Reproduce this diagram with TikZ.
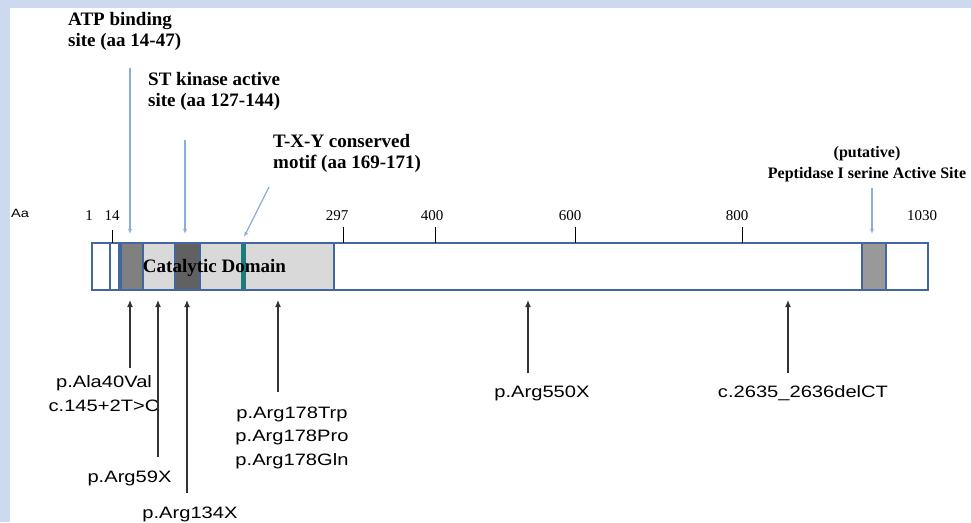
\documentclass[tikz,border=0pt]{standalone}
\usepackage{fontspec}
\setmainfont{Liberation Serif}
\newfontfamily\mutfont[FakeStretch=1.22]{Liberation Sans}
\usetikzlibrary{arrows.meta}
\definecolor{Frame}{HTML}{CCD9EE}
\definecolor{Edge}{HTML}{41679E}
\definecolor{Pointer}{HTML}{8AAEDC}
\definecolor{Domain}{HTML}{D9D9D9}
\definecolor{Motif}{HTML}{1C7C7C}

\begin{document}
\begin{tikzpicture}[x=1pt, y=-1pt,
      site/.style={font=\bfseries\fontsize{19}{21}\selectfont, align=left,
                   inner sep=0pt, anchor=base west},
      mut/.style={font=\mutfont\fontsize{16.5}{23.5}\selectfont, align=center,
                  inner sep=0pt, anchor=base},
      num/.style={font=\fontsize{15}{15}\selectfont, inner sep=0pt, anchor=base},
      seg/.style={draw=Edge, line width=1.6pt},
      siteArrow/.style={-{Latex[length=5pt,width=4pt]}, Pointer, line width=1.2pt},
      mutArrow/.style={-{Latex[length=7pt,width=6pt]}, black!80, line width=1.2pt}
    ]
      \useasboundingbox (0,0) rectangle (971,522);
      \fill[Frame] (0,0) rectangle (971,522);
      \fill[white] (10,8) rectangle (971,522);

      \draw[seg, fill=white] (92,243) rectangle (928,290);
      \draw[seg, fill=Domain] (119,243) rectangle (334,290);
      \draw[seg, fill=black!50] (121,243) rectangle (143,290);
      \draw[seg, fill=black!62] (175,243) rectangle (200,290);
      \draw[seg, fill=black!40] (862,243) rectangle (886,290);
      \draw[seg] (110,243) -- (110,290);
      \fill[Motif] (241,244) rectangle (246,289);

      \draw[line width=0.8pt] (112,230) -- (112,243);
      \foreach \x in {343,435,575,742}
        \draw[line width=0.8pt] (\x,227) -- (\x,243);

      \node[num, font=\mutfont\fontsize{12}{12}\selectfont] (aa) at (20,217) {Aa};
      \foreach \x/\v in {89/1,112/14,337/297,432/400,570/600,737/800,922/1030}
        \node[num] (t\v) at (\x,220) {\v};

      \node[font=\bfseries\fontsize{19}{19}\selectfont, inner sep=0pt, anchor=base]
        (cat) at (214.5,272) {Catalytic Domain};

      % base of a two-line label is its last line
      \node[site] (atp) at (68,46) {ATP binding\\site (aa 14-47)};
      \node[site] (stk) at (148,106) {ST kinase active\\site (aa 127-144)};
      \node[site] (txy) at (273,168) {T-X-Y conserved\\motif (aa 169-171)};
      \node[site, font=\bfseries\fontsize{16}{21}\selectfont, align=center, anchor=base]
        (pep) at (867,178) {(putative)\\Peptidase I serine Active Site};

      \coordinate (atpS) at (130,68);  \coordinate (atpE) at (130,234);
      \coordinate (stkS) at (185,140); \coordinate (stkE) at (185,234);
      \coordinate (txyS) at (269,187); \coordinate (txyE) at (244,237);
      \coordinate (pepS) at (872,188); \coordinate (pepE) at (872,234);
      \draw[siteArrow] (atpS) -- (atpE);
      \draw[siteArrow] (stkS) -- (stkE);
      \draw[siteArrow] (txyS) -- (txyE);
      \draw[siteArrow] (pepS) -- (pepE);

      \node[mut] (a40) at (104,411) {p.Ala40Val\\c.145+2T>C};
      \node[mut] (r59) at (129.5,482) {p.Arg59X};
      \node[mut] (r134) at (190,518) {p.Arg134X};
      \node[mut] (r178) at (292,465) {p.Arg178Trp\\p.Arg178Pro\\p.Arg178Gln};
      \node[mut] (r550) at (542,397) {p.Arg550X};
      \node[mut] (del) at (803,397) {c.2635\_2636delCT};

      \coordinate (a40S) at (130,368);  \coordinate (a40E) at (130,300);
      \coordinate (r59S) at (158,457);  \coordinate (r59E) at (158,300);
      \coordinate (r134S) at (187,493); \coordinate (r134E) at (187,300);
      \coordinate (r178S) at (278,392); \coordinate (r178E) at (278,300);
      \coordinate (r550S) at (528,373); \coordinate (r550E) at (528,300);
      \coordinate (delS) at (788,373);  \coordinate (delE) at (788,300);
      \draw[mutArrow] (a40S) -- (a40E);
      \draw[mutArrow] (r59S) -- (r59E);
      \draw[mutArrow] (r134S) -- (r134E);
      \draw[mutArrow] (r178S) -- (r178E);
      \draw[mutArrow] (r550S) -- (r550E);
      \draw[mutArrow] (delS) -- (delE);
    \end{tikzpicture}
\end{document}
